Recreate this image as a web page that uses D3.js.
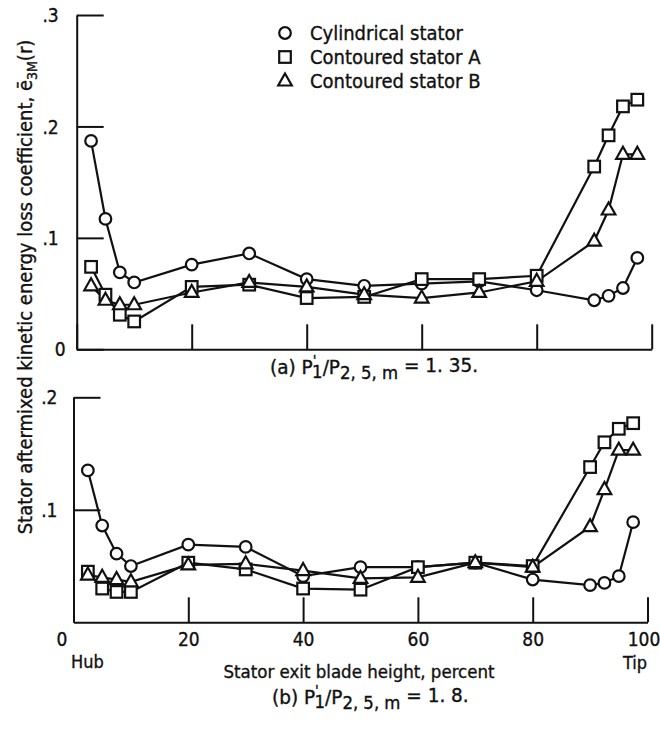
<!DOCTYPE html>
<html>
<head>
<meta charset="utf-8">
<script src="https://cdn.jsdelivr.net/npm/d3@7"></script>
<style>
  body { margin: 0; background: #fff; }
  svg text { font-family: "DejaVu Sans Condensed", "Liberation Sans Narrow", sans-serif; fill: #111; stroke: #111; stroke-width: 0.35px; }
</style>
</head>
<body>
<div id="wrapper"></div>
<script>
// blade height stations, percent (shared by all three stators)
const bladeHeight = [2.5, 5, 7.5, 10, 20, 30, 40, 50, 60, 70, 80, 90, 92.5, 95, 97.5]

// panel (a), P1'/P2,5,m = 1.35
const cylindricalA = [0.187, 0.117, 0.069, 0.060, 0.076, 0.086, 0.063, 0.057, 0.059, 0.061, 0.053, 0.044, 0.048, 0.055, 0.082]
const contouredAA  = [0.074, 0.049, 0.031, 0.025, 0.056, 0.058, 0.046, 0.047, 0.063, 0.063, 0.066, 0.164, 0.192, 0.218, 0.224]
const contouredBA  = [0.057, 0.044, 0.040, 0.040, 0.051, 0.060, 0.056, 0.049, 0.046, 0.051, 0.061, 0.097, 0.125, 0.175, 0.175]

// panel (b), P1'/P2,5,m = 1.8
const cylindricalB = [0.135, 0.086, 0.061, 0.050, 0.069, 0.067, 0.041, 0.049, 0.049, 0.053, 0.038, 0.033, 0.035, 0.041, 0.089]
const contouredAB  = [0.045, 0.030, 0.027, 0.027, 0.053, 0.047, 0.030, 0.029, 0.049, 0.053, 0.050, 0.138, 0.160, 0.172, 0.177]
const contouredBB  = [0.042, 0.040, 0.038, 0.036, 0.051, 0.052, 0.046, 0.039, 0.040, 0.053, 0.049, 0.085, 0.118, 0.153, 0.153]

const legendLabels = ["Cylindrical stator", "Contoured stator A", "Contoured stator B"]
const markerShapes = ["circle", "square", "triangle"]

const xTicks = [0, 20, 40, 60, 80, 100]
const yTicksA = [0, 0.1, 0.2, 0.3]
const yTickLabelsA = ["0", ".1", ".2", ".3"]
// lower panel: its zero is the "0" of the blade-height axis
const yTicksB = [0.1, 0.2]
const yTickLabelsB = [".1", ".2"]

const width = 660
const height = 743

const svg = d3.select("#wrapper")
  .append("svg")
    .attr("width", width)
    .attr("height", height)

// draws one marker centred on (0,0)
function drawMarker(g, shape) {
  if (shape === "circle") {
    g.append("circle").attr("r", 5.8)
  } else if (shape === "square") {
    g.append("rect").attr("x", -5.8).attr("y", -5.8).attr("width", 11.6).attr("height", 11.6)
  } else {
    g.append("path").attr("d", "M0,-7.5L6.8,4.5L-6.8,4.5Z")
  }
  g.selectAll("*")
    .attr("fill", "#fff")
    .attr("stroke", "#111")
    .attr("stroke-width", 2.2)
}

function drawPanel(opts) {
  const x = d3.scaleLinear().domain([0, 100]).range(opts.xRange)
  const y = d3.scaleLinear().domain(opts.yDomain).range(opts.yRange)

  const panel = svg.append("g")

  // y axis, ticks point inward
  const yAxis = panel.append("g")
    .attr("transform", `translate(${opts.xRange[0]},0)`)
    .call(d3.axisLeft(y)
      .tickValues(opts.yTicks)
      .tickFormat((d, i) => opts.yTickLabels[i])
      .tickSizeInner(-27)
      .tickSizeOuter(0)
      .tickPadding(opts.yPad))
  yAxis.selectAll("text")
    .attr("font-size", 19)
    .attr("dy", "0.35em")
    .attr("dx", d => d === 0 ? 0 : -7)

  // x axis, ticks point up
  const xAxis = panel.append("g")
    .attr("transform", `translate(0,${opts.yRange[0]})`)
    .call(d3.axisBottom(x)
      .tickValues(xTicks)
      .tickFormat(d => opts.showXLabels ? d : "")
      .tickSizeInner(-25)
      .tickSizeOuter(0)
      .tickPadding(10))
  xAxis.selectAll("text")
    .attr("font-size", 19)
    .attr("dy", "0.73em")
    .attr("dx", d => d === 100 ? -4 : d === 0 ? -12 : 0)

  panel.selectAll(".domain, .tick line")
    .attr("stroke", "#111")
    .attr("stroke-width", 2)
  panel.selectAll(".tick text").attr("fill", "#111")

  const line = d3.line()
    .x((d, i) => x(bladeHeight[i]))
    .y(d => y(d))

  // lines first, markers on top
  opts.series.forEach(values => {
    panel.append("path")
      .attr("d", line(values))
      .attr("fill", "none")
      .attr("stroke", "#111")
      .attr("stroke-width", 2.2)
  })
  opts.series.forEach((values, s) => {
    panel.selectAll(null)
      .data(values)
      .join("g")
        .attr("transform", (d, i) => `translate(${x(bladeHeight[i])},${y(d)})`)
        .each(function() { drawMarker(d3.select(this), markerShapes[s]) })
  })
  return { x, y }
}

drawPanel({
  xRange: [76.7, 651.7],
  yDomain: [0, 0.3],
  yRange: [349.3, 15],
  yPad: 11,
  yTicks: yTicksA,
  yTickLabels: yTickLabelsA,
  showXLabels: false,
  series: [cylindricalA, contouredAA, contouredBA]
})

drawPanel({
  xRange: [73.5, 647.5],
  yDomain: [0, 0.2],
  yRange: [622.3, 397.3],
  yPad: 9,
  yTicks: yTicksB,
  yTickLabels: yTickLabelsB,
  showXLabels: true,
  series: [cylindricalB, contouredAB, contouredBB]
})

// legend
const legend = svg.append("g").attr("transform", "translate(285,33)")
legendLabels.forEach((label, i) => {
  const row = legend.append("g").attr("transform", `translate(0,${i * 24})`)
  drawMarker(row.append("g"), markerShapes[i])
  row.append("text")
    .attr("x", 25)
    .attr("y", 7)
    .attr("font-size", 20)
    .text(label)
})

// hub / tip labels
svg.append("text").attr("x", 71).attr("y", 668).attr("font-size", 18).text("Hub")
svg.append("text").attr("x", 647).attr("y", 669).attr("font-size", 18).attr("text-anchor", "end").text("Tip")

// x axis title
svg.append("text")
  .attr("x", 359).attr("y", 678)
  .attr("font-size", 18.5)
  .attr("text-anchor", "middle")
  .text("Stator exit blade height,  percent")

// y axis title, rotated
const yTitle = svg.append("text")
  .attr("transform", "translate(32,287) rotate(-90)")
  .attr("font-size", 20)
  .attr("text-anchor", "middle")
yTitle.append("tspan").text("Stator aftermixed kinetic energy loss coefficient,  \u0113")
yTitle.append("tspan").attr("dy", 5).attr("font-size", 14).text("3M")
yTitle.append("tspan").attr("dy", -5).text("(r)")

// panel captions, stretched a little to the reference width
function caption(xPos, yPos, sx, tag, value) {
  const t = svg.append("g")
    .attr("transform", `translate(${xPos},${yPos}) scale(${sx},1)`)
    .append("text").attr("font-size", 19)
  t.append("tspan").text(tag + " P")
  t.append("tspan").attr("dy", -9).attr("font-size", 14).text("'")
  t.append("tspan").attr("dx", -4).attr("dy", 13).attr("font-size", 17).text("1")
  t.append("tspan").attr("dy", -4).text("/P")
  t.append("tspan").attr("dy", 5).attr("font-size", 17).text("2, 5, m")
  t.append("tspan").attr("dy", -7).attr("font-size", 19).text(" = " + value)
}
caption(270, 374, 1.08, "(a)", "1. 35.")
caption(272, 704, 1.08, "(b)", "1. 8.")
</script>
</body>
</html>
